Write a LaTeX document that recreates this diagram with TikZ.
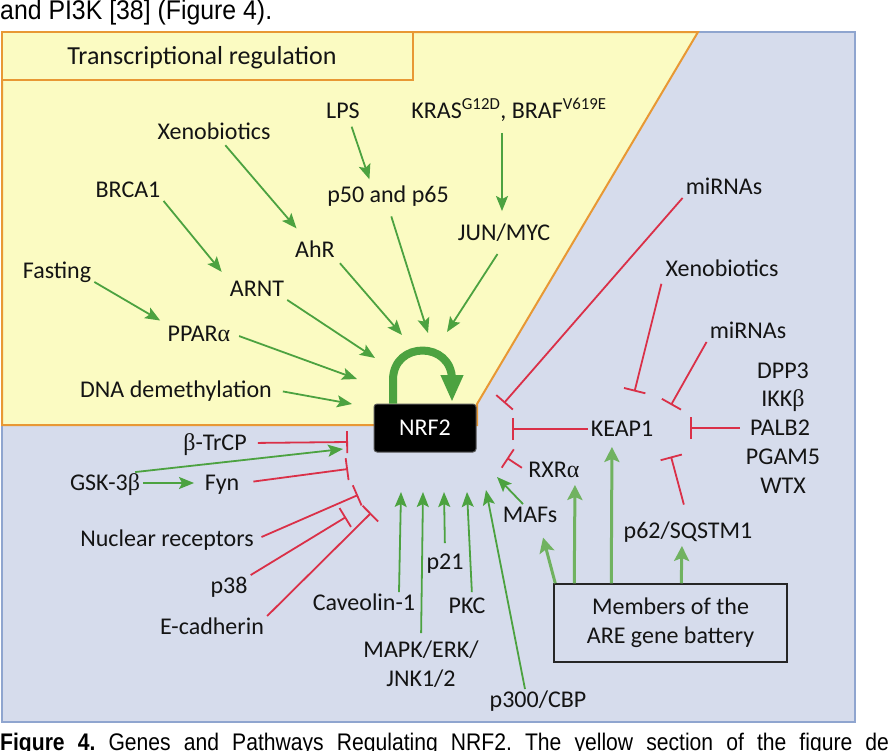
\documentclass[tikz,border=0pt]{standalone}
\usepackage{fontspec}
\setmainfont{Carlito}
\newfontfamily\capfont{Liberation Sans}
\newfontfamily\grk{Liberation Serif}
\usetikzlibrary{arrows.meta}
\definecolor{bgblue}{RGB}{214,220,236}
\definecolor{bdblue}{RGB}{143,165,207}
\definecolor{ylw}{RGB}{251,251,194}
\definecolor{org}{RGB}{232,152,52}
\definecolor{grn}{RGB}{76,162,64}
\definecolor{lgrn}{RGB}{112,178,96}
\definecolor{rd}{RGB}{218,48,72}
\begin{document}
\frenchspacing
\begin{tikzpicture}[x=1pt,y=-1pt,
 lbl/.style={font=\fontsize{24}{29}\selectfont, text height=15.5pt, text depth=0pt, inner sep=3pt, text=black!92},
 ga/.style={draw=grn, line width=1.8pt, -{Stealth[length=15pt,width=12pt,inset=3pt]}},
 gb/.style={draw=lgrn, line width=3pt, -{Stealth[length=15pt,width=15pt,inset=3pt]}},
 ri/.style={draw=rd, line width=1.8pt, -{Bar[width=22pt]}},
]
\useasboundingbox (0,0) rectangle (890,750);
\fill[white] (0,0) rectangle (890,750);
% panels
\draw[bdblue, line width=2pt, fill=bgblue] (2,32) rectangle (855,722);
\draw[org, line width=2pt, fill=ylw] (2,32) -- (698,32) -- (477,404) -- (477,425) -- (2,425) -- cycle;
\draw[org, line width=2pt, fill=ylw] (2,32) rectangle (413,80);
\node[font=\fontsize{26}{30}\selectfont, text=black!92] (title) at (202,58) {Transcriptional regulation};
% captions
\node[anchor=base west, inner sep=0] (cap1) at (0,19) {\capfont\fontsize{27}{30}\selectfont\scalebox{0.92}[1]{and PI3K [38] (Figure 4).}};
\node[anchor=base west, inner sep=0] (cap2) at (0,750) {\capfont\fontsize{24}{28}\selectfont\scalebox{0.88}[1]{\makebox[1010pt][s]{\bfseries Figure 4. \mdseries Genes and Pathways Regulating NRF2. The yellow section of the figure de}}};
% NRF2
\node[fill=black, draw=black!65, line width=1pt, rounded corners=3pt, minimum width=102pt, minimum height=48pt, text=white, font=\fontsize{24}{29}\selectfont, inner sep=0] (nrf2) at (425,428) {NRF2};
\draw[grn, line width=8pt, -{Triangle[length=27pt,width=21pt]}] ([xshift=-32pt]nrf2.north) -- (393,380) .. controls (393,340.7) and (452,340.7) .. (452,380) -- (452,402);
% yellow labels
\node[lbl] (xenoY) at (214,132) {Xenobiotics};
\node[lbl] (lps) at (343,111) {LPS};
\node[lbl] (kras) at (509,111) {KRAS\textsuperscript{G12D}, BRAF\textsuperscript{V619E}};
\node[lbl] (p50) at (388,195) {p50 and p65};
\node[lbl] (jun) at (504,233) {JUN/MYC};
\node[lbl] (brca1) at (128,190) {BRCA1};
\node[lbl] (ahr) at (315,250) {AhR};
\node[lbl] (fasting) at (57,271) {Fasting};
\node[lbl] (arnt) at (257,289) {ARNT};
\node[lbl] (ppar) at (199,334) {PPAR{\grk α}};
\node[lbl] (dna) at (176,390) {DNA demethylation};
% blue labels
\node[lbl] (mir1) at (724,187) {miRNAs};
\node[lbl] (xenoR) at (722,269) {Xenobiotics};
\node[lbl] (mir2) at (748,331) {miRNAs};
\node[lbl] (dpp3) at (783,371) {DPP3};
\node[lbl] (ikkb) at (783,399) {IKK{\grk β}};
\node[lbl] (palb2) at (780,428) {PALB2};
\node[lbl] (pgam5) at (783,457) {PGAM5};
\node[lbl] (wtx) at (783,486) {WTX};
\node[lbl] (keap1) at (622,429) {KEAP1};
\node[lbl] (rxr) at (554,470) {RXR{\grk α}};
\node[lbl] (mafs) at (530,515) {MAFs};
\node[lbl] (p62) at (688,531) {p62/SQSTM1};
\node[draw=black!85, line width=1.5pt, minimum width=233pt, minimum height=78pt, align=center, font=\fontsize{24}{29}\selectfont, inner sep=0, text=black!92] (are) at (670.5,623) {Members of the\\ARE gene battery};
\node[lbl] (btrcp) at (215,443) {{\grk β}-TrCP};
\node[lbl] (gsk) at (105,483) {GSK-3{\grk β}};
\node[lbl] (fyn) at (222,483) {Fyn};
\node[lbl] (nuc) at (167,539) {Nuclear receptors};
\node[lbl] (p38) at (229,586) {p38};
\node[lbl] (ecad) at (212,627) {E-cadherin};
\node[lbl] (cav) at (364,603) {Caveolin-1};
\node[font=\fontsize{24}{29}\selectfont, align=center, anchor=north, inner sep=0, text=black!92] (mapk) at (421,641) {MAPK/ERK/\\JNK1/2};
\node[lbl] (p21) at (445,562) {p21};
\node[lbl] (pkc) at (467,606) {PKC};
\node[lbl] (p300) at (538,700) {p300/CBP};
% ports
\coordinate (pAhR) at (402,335);
\coordinate (pArnt) at (375,358);
\coordinate (pPpar) at (357,379);
\coordinate (pDna) at (352,404);
\coordinate (pP50) at (428,333);
\coordinate (pJun) at (447,332);
\coordinate (pMir) at (504,403);
\coordinate (pKeap) at (512,429);
\coordinate (pRxr) at (507,458);
\coordinate (pBtr) at (348,442);
\coordinate (pGsk) at (343,449);
\coordinate (pFyn) at (348,469);
\coordinate (pNuc) at (358,495);
\coordinate (pP38) at (346,517);
\coordinate (pEcad) at (371,513);
\coordinate (pCav) at (401,492);
\coordinate (pMapk) at (423,492);
\coordinate (pP21) at (444,492);
\coordinate (pPkc) at (467,492);
\coordinate (pP300) at (486,490);
\coordinate (pMafs) at (497,477);
\coordinate (kXen) at (634.5,391.5);
\coordinate (kMir) at (671,405);
\coordinate (kPalb) at (690,428);
\coordinate (kP62) at (671,456.5);
% green arrows, yellow region
\draw[ga, shorten <=3pt, shorten >=14pt] (xenoY) -- (ahr);
\draw[ga, shorten >=8pt] (brca1.south east) -- (arnt.north west);
\draw[ga, shorten >=5pt] (fasting.south east) -- (ppar.north west);
\draw[ga, shorten <=5pt, shorten >=5pt] ([xshift=7pt]lps.south) -- ([xshift=-17pt]p50.north);
\draw[ga, shorten <=11pt, shorten >=11pt] ([xshift=-7pt]kras.south) -- ([xshift=-2pt]jun.north);
\draw[ga, shorten <=3pt] (ahr.south east) -- (pAhR);
\draw[ga] (arnt.south east) -- (pArnt);
\draw[ga, shorten <=6pt] (ppar.east) -- (pPpar);
\draw[ga, shorten <=8pt] (dna.east) -- (pDna);
\draw[ga, shorten <=11pt] (p50.south) -- (pP50);
\draw[ga, shorten <=12pt] (jun.south) -- (pJun);
% red inhibitions, right
\draw[ri] (mir1.south west) -- (pMir);
\draw[ri, shorten <=4pt] (xenoR.south west) -- (kXen);
\draw[ri] (mir2.south west) -- (kMir);
\draw[ri] (keap1.west) -- (pKeap);
\draw[ri, shorten <=7pt] (palb2.west) -- (kPalb);
\draw[ri, shorten <=16pt] (p62.north) -- (kP62);
\draw[ri, shorten <=4pt] (rxr.west) -- (pRxr);
% red inhibitions, left
\draw[ri, shorten <=8pt] (btrcp.east) -- (pBtr);
\draw[ri, shorten <=11pt] (fyn.east) -- (pFyn);
\draw[ri, shorten <=5pt] (nuc.east) -- (pNuc);
\draw[ri] (p38.north east) -- (pP38);
\draw[ri] (ecad.north east) -- (pEcad);
% green, left and bottom
\draw[ga, shorten >=7.5pt] (gsk) -- (fyn);
\draw[ga] ([xshift=-8pt]gsk.north east) -- (pGsk);
\draw[ga] ([xshift=35pt]cav.north) -- (pCav);
\draw[ga, shorten <=8pt] (mapk.north) -- (pMapk);
\draw[ga, shorten <=8pt] (p21.north) -- (pP21);
\draw[ga, shorten <=3pt] ([xshift=5pt]pkc.north) -- (pPkc);
\draw[ga] ([xshift=-13pt]p300.north) -- (pP300);
\draw[ga] ([xshift=-7pt]mafs.north) -- (pMafs);
% ARE battery arrows
\draw[gb, shorten >=12pt] ([xshift=2pt]are.north west) -- ([xshift=10pt]mafs.south);
\draw[gb, shorten >=4pt] ([xshift=21pt]are.north west) -- ([xshift=21pt]rxr.south);
\draw[gb, shorten >=7pt] ([xshift=58pt]are.north west) -- ([xshift=-10pt]keap1.south);
\draw[gb, shorten >=4pt] ([xshift=128pt]are.north west) -- ([xshift=-6pt]p62.south);
\end{tikzpicture}
\end{document}
